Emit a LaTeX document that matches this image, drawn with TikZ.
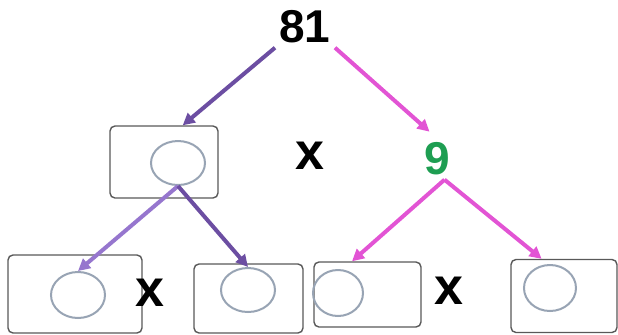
\documentclass[tikz,border=0pt]{standalone}
\usepackage{fontspec}
\setmainfont{Liberation Sans}
\usetikzlibrary{shapes.geometric,arrows.meta}
\definecolor{treepurple}{RGB}{108,78,162}
\definecolor{treelilac}{RGB}{150,118,206}
\definecolor{treepink}{RGB}{226,84,212}
\definecolor{treegreen}{RGB}{30,158,82}
\definecolor{ringgray}{RGB}{152,164,180}

\begin{document}
\begin{tikzpicture}[
    x=0.5pt, y=-0.5pt,
    num/.style={font=\bfseries\fontsize{23}{23}\selectfont, inner sep=2pt},
    times/.style={font=\bfseries\fontsize{26}{26}\selectfont, inner sep=0pt},
    blank/.style={draw=black!65, rounded corners=2.5pt, line width=0.7pt, fill=white, inner sep=0pt},
    ring/.style={draw=ringgray, ellipse, line width=1pt, inner sep=0pt, minimum width=27pt, minimum height=22pt},
    arr/.style={-{Triangle[length=6pt,width=6pt]}, line width=2pt}
]
\useasboundingbox (0,0) rectangle (618,334);

% empty boxes
\node[blank, minimum width=54pt, minimum height=36pt] (box1) at (164,162) {};
\node[blank, minimum width=67pt, minimum height=39pt] (boxa) at (75,294) {};
\node[blank, minimum width=54.5pt, minimum height=34.5pt] (boxb) at (248.5,298.5) {};
\node[blank, minimum width=53.5pt, minimum height=32.5pt] (boxc) at (367.5,294.5) {};
\node[blank, minimum width=53pt, minimum height=36.5pt] (boxd) at (564,296) {};

\node[ring] (ring1) at (178,163) {};
\node[ring, minimum height=23pt] (ringa) at (78,295) {};
\node[ring] (ringb) at (248,290) {};
\node[ring, minimum width=25pt, minimum height=23pt] (ringc) at (338,293) {};
\node[ring, minimum width=26pt, minimum height=23pt] (ringd) at (550,288) {};

% numbers and signs
\node[num] (top) at (305,27) {81};
\node[num, text=treegreen] (nine) at (437,159) {9};
\node[times] (mul1) at (310,156) {x};
\node[times] (mul2) at (150,293) {x};
\node[times] (mul3) at (449,291) {x};

\draw[arr, treepurple] (top.south west) -- (box1.63);
\draw[arr, treepink, shorten >=5pt] (top.south east) -- (nine.north);
\draw[arr, treelilac] (ring1.south) -- (ringa.north);
\draw[arr, treepurple] (ring1.south) -- (ringb.north);
\foreach \b in {boxc.115, boxd.121}
  \draw[arr, treepink] (nine.-70) -- (\b);
\end{tikzpicture}
\end{document}
